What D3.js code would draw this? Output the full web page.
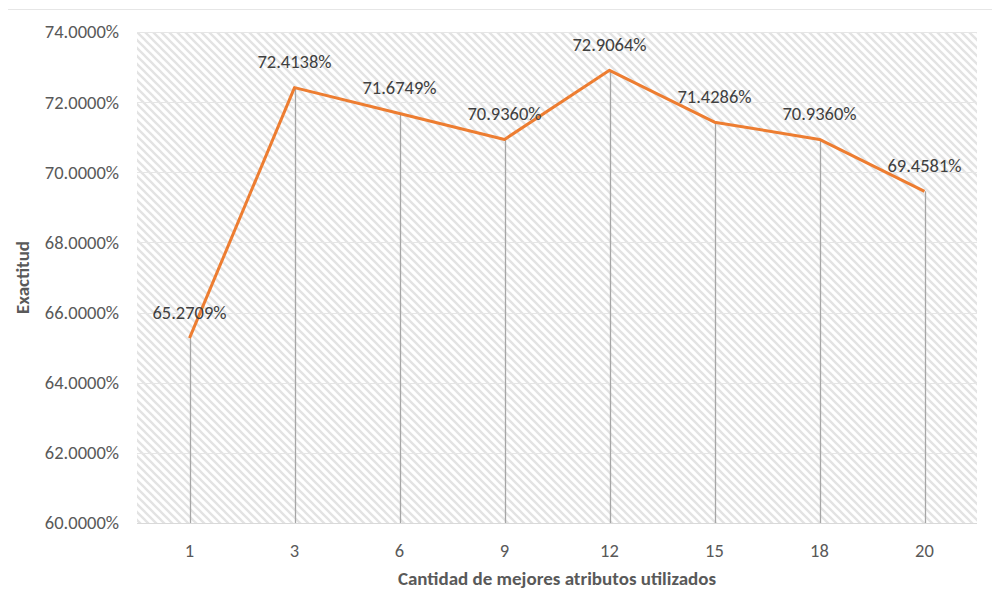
<!DOCTYPE html>
<html>
<head>
<meta charset="utf-8">
<script src="https://cdn.jsdelivr.net/npm/d3@7"></script>
<style>
  body { margin: 0; background: #fff; }
  svg { font-family: Carlito, Lato, "Open Sans", sans-serif; }
</style>
</head>
<body>
<svg id="chart" width="992" height="592"></svg>
<script>
var categories = ["1", "3", "6", "9", "12", "15", "18", "20"];
var values = [65.2709, 72.4138, 71.6749, 70.9360, 72.9064, 71.4286, 70.9360, 69.4581];
var yTicks = [60, 62, 64, 66, 68, 70, 72, 74];

var svg = d3.select("#chart");
var margin = {top: 32, right: 15, bottom: 69, left: 137};
var width = 992 - margin.left - margin.right;
var height = 592 - margin.top - margin.bottom;

// top border line of the chart frame
svg.append("line")
    .attr("x1", 8).attr("x2", 992)
    .attr("y1", 9.5).attr("y2", 9.5)
    .attr("stroke", "#e6e6e6").attr("stroke-width", 1);

var defs = svg.append("defs");
var pat = defs.append("pattern")
    .attr("id", "hatch")
    .attr("patternUnits", "userSpaceOnUse")
    .attr("width", 8).attr("height", 8);
pat.append("rect").attr("width", 8).attr("height", 8).attr("fill", "#fff");
pat.append("path")
    .attr("d", "M-4,4 L4,12 M0,0 L8,8 M4,-4 L12,4")
    .attr("stroke", "#e3e3e3")
    .attr("stroke-width", 2.3);

var g = svg.append("g").attr("transform", "translate(" + margin.left + "," + margin.top + ")");

var x = d3.scaleBand().domain(categories).range([0, width]);
var y = d3.scaleLinear().domain([60, 74]).range([height, 0]);

g.append("rect")
    .attr("width", width).attr("height", height)
    .attr("fill", "url(#hatch)");

// horizontal gridlines
g.append("g")
    .selectAll("line")
    .data(yTicks)
    .enter().append("line")
      .attr("x1", 0).attr("x2", width)
      .attr("y1", function(d) { return Math.round(y(d)) + 0.5; })
      .attr("y2", function(d) { return Math.round(y(d)) + 0.5; })
      .attr("stroke", function(d) { return d === 60 ? "#d9d9d9" : "#e6e6e6"; })
      .attr("stroke-width", 1.2);

// y axis labels
g.append("g")
    .selectAll("text")
    .data(yTicks)
    .enter().append("text")
      .attr("x", -18)
      .attr("y", function(d) { return y(d); })
      .attr("dy", "0.35em")
      .attr("text-anchor", "end")
      .attr("fill", "#595959")
      .style("font-size", "18.5px")
      .text(function(d) { return d3.format(".4f")(d) + "%"; });

// x axis labels
g.append("g")
    .selectAll("text")
    .data(categories)
    .enter().append("text")
      .attr("x", function(d) { return x(d) + x.bandwidth() / 2; })
      .attr("y", height + 28)
      .attr("dy", "0.35em")
      .attr("text-anchor", "middle")
      .attr("fill", "#595959")
      .style("font-size", "18.5px")
      .text(function(d) { return d; });

var pts = categories.map(function(c, i) { return {cat: c, value: values[i]}; });

// drop lines
g.append("g")
    .selectAll("line")
    .data(pts)
    .enter().append("line")
      .attr("x1", function(d) { return Math.round(x(d.cat) + x.bandwidth() / 2) + 0.5; })
      .attr("x2", function(d) { return Math.round(x(d.cat) + x.bandwidth() / 2) + 0.5; })
      .attr("y1", function(d) { return y(d.value); })
      .attr("y2", height)
      .attr("stroke", "#a6a6a6")
      .attr("stroke-width", 1.3);

var line = d3.line()
    .x(function(d) { return x(d.cat) + x.bandwidth() / 2; })
    .y(function(d) { return y(d.value); });

g.append("path")
    .datum(pts)
    .attr("fill", "none")
    .attr("stroke", "#ed7d31")
    .attr("stroke-width", 3)
    .attr("stroke-linejoin", "round")
    .attr("d", line);

// data labels
g.append("g")
    .selectAll("text")
    .data(pts)
    .enter().append("text")
      .attr("x", function(d) { return x(d.cat) + x.bandwidth() / 2; })
      .attr("y", function(d) { return y(d.value) - 26; })
      .attr("dy", "0.35em")
      .attr("text-anchor", "middle")
      .attr("fill", "#404040")
      .style("font-size", "18.5px")
      .text(function(d) { return d3.format(".4f")(d.value) + "%"; });

// axis titles
svg.append("text")
    .attr("x", margin.left + width / 2)
    .attr("y", 578)
    .attr("dy", "0.35em")
    .attr("text-anchor", "middle")
    .attr("fill", "#595959")
    .style("font-size", "19px")
    .style("font-weight", "bold")
    .text("Cantidad de mejores atributos utilizados");

svg.append("text")
    .attr("transform", "translate(22," + (margin.top + height / 2) + ") rotate(-90)")
    .attr("dy", "0.35em")
    .attr("text-anchor", "middle")
    .attr("fill", "#595959")
    .style("font-size", "19px")
    .style("font-weight", "bold")
    .text("Exactitud");
</script>
</body>
</html>
